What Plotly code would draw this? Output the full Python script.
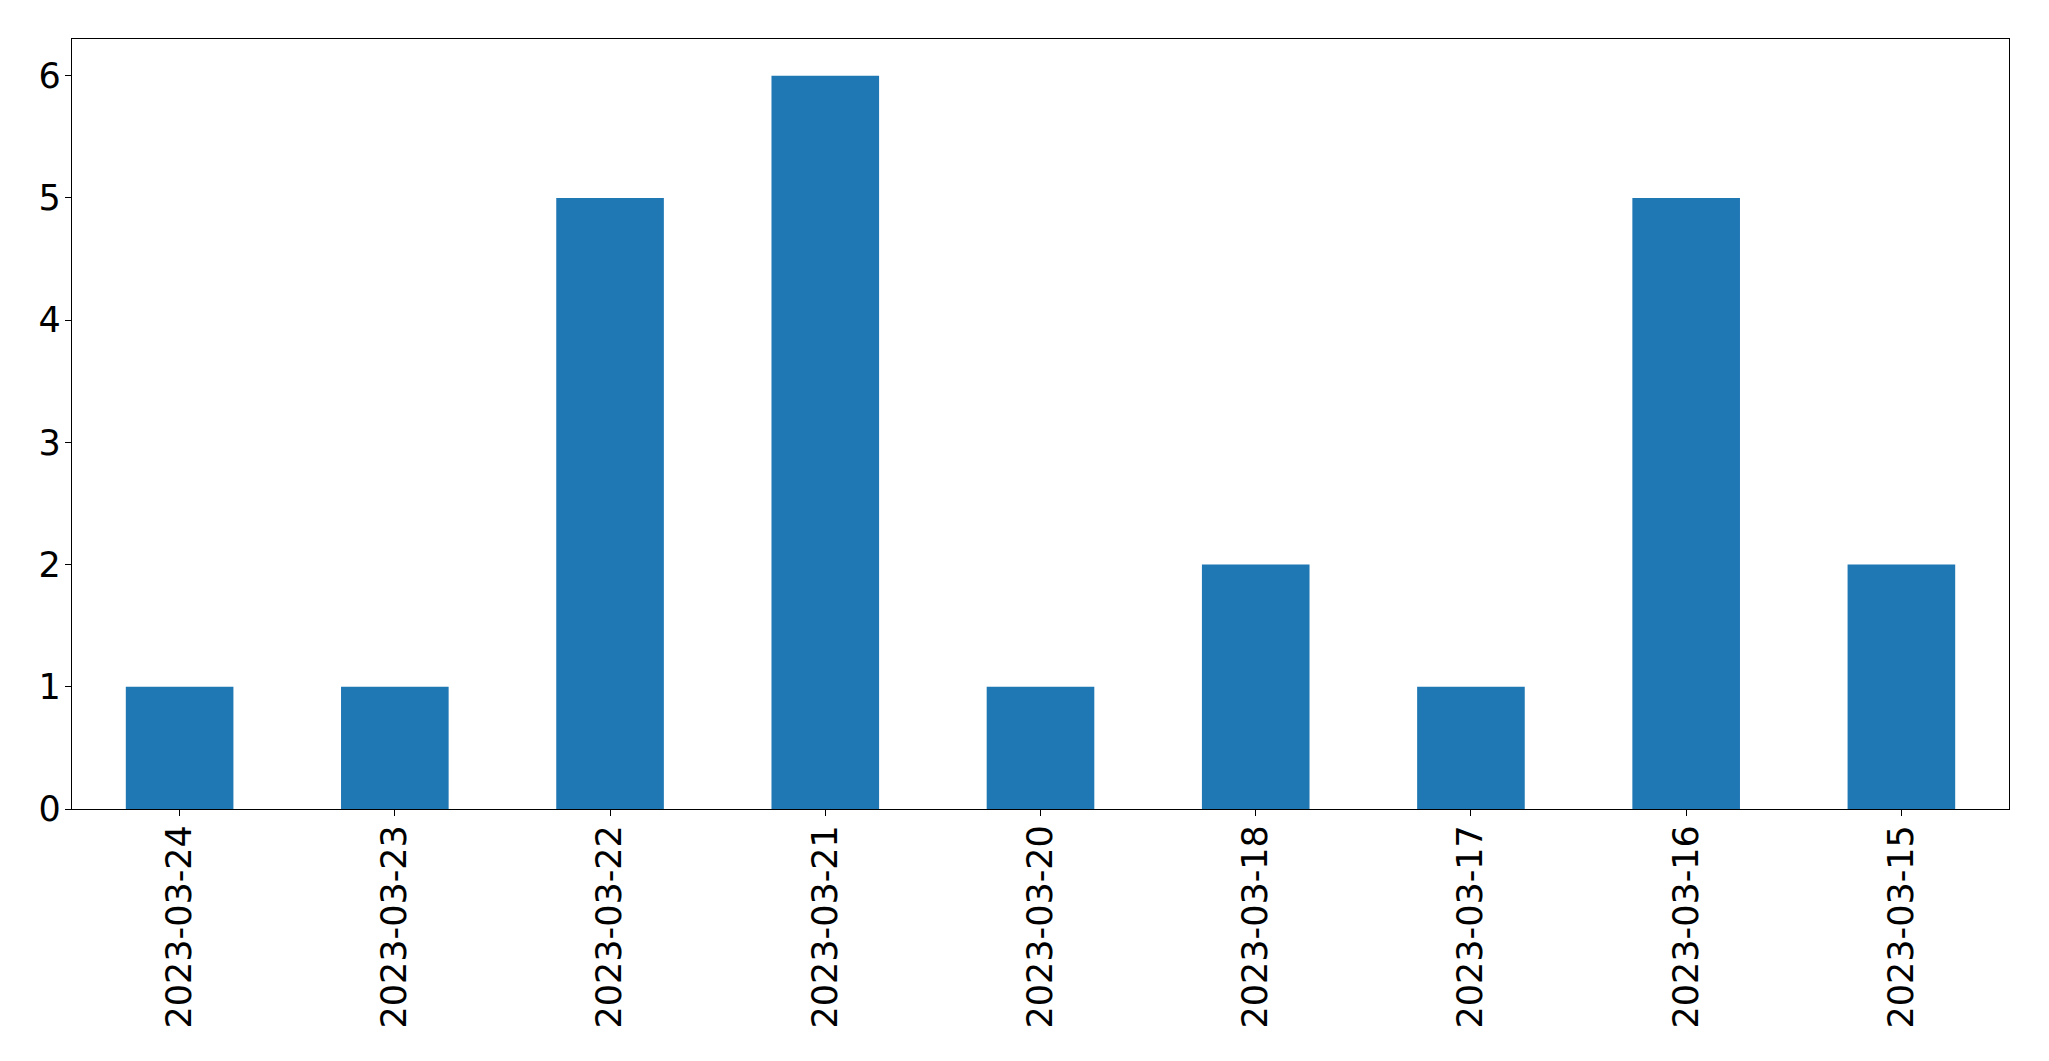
import plotly.graph_objects as go

dates = ["2023-03-24", "2023-03-23", "2023-03-22", "2023-03-21", "2023-03-20",
         "2023-03-18", "2023-03-17", "2023-03-16", "2023-03-15"]
counts = [1, 1, 5, 6, 1, 2, 1, 5, 2]
y_ticks = [0, 1, 2, 3, 4, 5, 6]

fig = go.Figure(go.Bar(x=dates, y=counts, width=0.5, marker=dict(color="#1f77b4", line=dict(width=0))))

# page body has an 8px margin, so the figure is shrunk and margins shifted to compensate
fig.update_layout(
    width=2041, height=1053,
    margin=dict(l=64, r=40, t=31, b=252),
    paper_bgcolor="white", plot_bgcolor="white",
    font=dict(family="DejaVu Sans", size=35, color="black"),
    showlegend=False,
)
fig.update_xaxes(
    type="category", range=[-0.5, 8.5], tickangle=-90, automargin=False,
    showline=True, linecolor="black", linewidth=1.3, mirror=True,
    ticks="outside", ticklen=6, tickwidth=1.3, tickcolor="black",
    showgrid=False, zeroline=False, ticklabelstandoff=-5,
)
fig.update_yaxes(
    range=[0, 6.3], tickvals=y_ticks, automargin=False,
    showline=True, linecolor="black", linewidth=1.3, mirror=True,
    ticks="outside", ticklen=6, tickwidth=1.3, tickcolor="black",
    showgrid=False, zeroline=False, ticklabelstandoff=-3,
)

fig.write_html("out.html")
